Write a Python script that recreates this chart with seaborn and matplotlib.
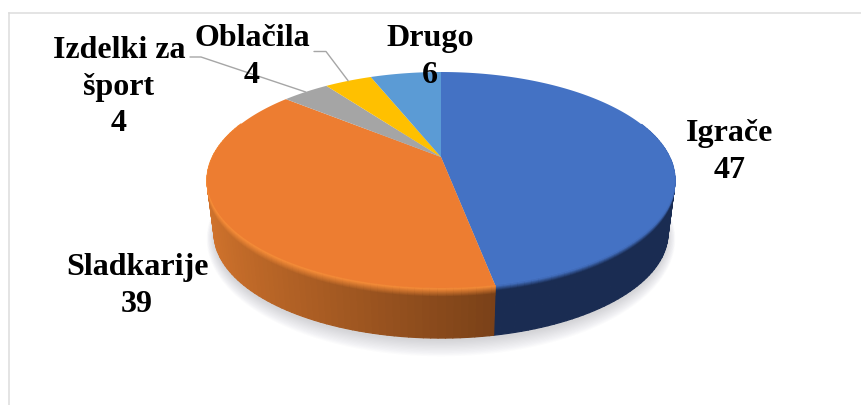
import numpy as np
import matplotlib
matplotlib.use("Agg")
import matplotlib.pyplot as plt
from matplotlib.collections import PolyCollection
from matplotlib.colors import to_rgb
from matplotlib.patches import Circle
from matplotlib.path import Path
from matplotlib.transforms import Affine2D, Transform
import seaborn as sns

categories = ["Igrače", "Sladkarije", "Izdelki za\nšport", "Oblačila", "Drugo"]
values = [47, 39, 4, 4, 6]
slice_colors = ["#4472c4", "#ed7d31", "#a5a5a5", "#ffc000", "#5b9bd5"]

W, H = 861, 405
LEFT, TOP = 8.5, 12.5
TOP_DISC = dict(cx=441, cy=157, a=228.6, b=103.1, k=0.213)
BOTTOM_DISC = dict(cx=441, cy=211, a=221.7, b=100.0, k=0.213)


class Perspective(Transform):
    input_dims = 2
    output_dims = 2
    is_affine = False
    has_inverse = False

    def __init__(self, cx, cy, a, b, k):
        super().__init__()
        self.cx, self.cy, self.a, self.b, self.k = cx, cy, a, b, k

    def transform_non_affine(self, xy):
        xy = np.asarray(xy, dtype=float)
        w = 1 + self.k * xy[:, 1]
        return np.column_stack((self.cx + self.a * xy[:, 0] / w,
                                self.cy - self.b * xy[:, 1] / w))

    def transform_path_non_affine(self, path):
        # flatten the curves first so that the arcs stay exact under the projection
        poly = path.to_polygons(Affine2D().scale(2000), closed_only=False)[0] / 2000
        return Path(self.transform_non_affine(poly))


sns.set_theme(style="white")
palette = sns.color_palette(slice_colors)

fig = plt.figure(figsize=(W / 100, H / 100), dpi=100)
ax = fig.add_axes([LEFT / W, 0, 1 - LEFT / W, 1 - TOP / H])
wedges, _ = ax.pie(values, colors=palette, startangle=90, counterclock=False,
                   radius=1, wedgeprops=dict(linewidth=0, zorder=3))
ax.set_aspect("auto")
ax.set_xlim(LEFT, W)
ax.set_ylim(H, TOP)
ax.set_frame_on(True)
ax.set_xticks([])
ax.set_yticks([])
sns.despine(ax=ax, right=True, bottom=True, top=False, left=False)
for side in ("top", "left"):
    ax.spines[side].set_color("#dcdcdc")
    ax.spines[side].set_linewidth(1.1)

top_tf = Perspective(**TOP_DISC)
bottom_tf = Perspective(**BOTTOM_DISC)
for w in wedges:
    w.set_transform(top_tf + ax.transData)

# soft shadow under the pie
for d in range(12, -1, -1):
    sh = dict(BOTTOM_DISC)
    sh["cy"] += 3
    sh["a"] += d * 0.6
    sh["b"] += d
    ax.add_patch(Circle((0, 0), 1, facecolor="#5a5a68", alpha=0.018, linewidth=0,
                        transform=Perspective(**sh) + ax.transData, zorder=1))


def lerp(c0, c1, t):
    return tuple((1 - t) * a + t * b for a, b in zip(to_rgb(c0), to_rgb(c1)))


def rim_color(i, cos_theta):
    if i == 0:
        return to_rgb("#1a2c52")
    if i == 1:
        t = np.clip((cos_theta + 1) / 1.19, 0, 1)
        return lerp("#d4752d", "#7a4118", t)
    return lerp(slice_colors[i], "#000000", 0.45)


bevel_colors = {0: "#4472c4", 1: "#f68c38"}
bevel_depth = {0: 0.10, 1: 0.16}
quads = []
levels = np.concatenate((np.linspace(0, 0.2, 13), [0.6, 1.0]))
for i, w in enumerate(wedges):
    edges = np.radians(np.arange(w.theta1, w.theta2 + 1.5, 1.5))
    edges[-1] = np.radians(w.theta2)
    for t0, t1 in zip(edges[:-1], edges[1:]):
        tm = (t0 + t1) / 2
        if np.sin(tm) > 0.35:
            continue
        pts = np.array([[np.cos(t0), np.sin(t0)], [np.cos(t1), np.sin(t1)]])
        up = top_tf.transform_non_affine(pts)
        lo = bottom_tf.transform_non_affine(pts)
        base = rim_color(i, np.cos(tm))
        for s0, s1 in zip(levels[:-1], levels[1:]):
            a0, b0 = up + (lo - up) * s0
            a1, b1 = up + (lo - up) * s1
            sm = (s0 + s1) / 2
            bev = bevel_colors.get(i, slice_colors[i])
            f = min(sm / bevel_depth.get(i, 0.15), 1)
            quads.append((-np.sin(tm), -sm, [a0, b0, b1, a1], lerp(bev, base, f)))
# far quads first, so the front of the rim lies over them
quads.sort(key=lambda q: (q[0], q[1]))
polys = [q[2] for q in quads]
cols = [q[3] for q in quads]
ax.add_collection(PolyCollection(polys, facecolors=cols, edgecolors=cols,
                                 linewidths=0.9, zorder=2))

# leader lines to the two small slices
leader_elbows = {2: [(190, 57), (201, 57)], 3: [(314, 51.5), (326, 51.5)]}
for i, elbow in leader_elbows.items():
    w = wedges[i]
    mid = np.radians((w.theta1 + w.theta2) / 2)
    end = top_tf.transform_non_affine(np.array([[np.cos(mid), np.sin(mid)]]))[0]
    xs = [p[0] for p in elbow] + [end[0]]
    ys = [p[1] for p in elbow] + [end[1]]
    ax.plot(xs, ys, color="#a6a6a6", lw=1.0, zorder=4)

label_xy = [(730, 152), (137, 286), (119, 87), (252, 57), (430, 57)]
for cat, val, (x, y) in zip(categories, values, label_xy):
    ax.text(x, y, f"{cat}\n{val}", ha="center", va="center", multialignment="center",
            family=["Liberation Serif", "DejaVu Serif"], fontweight="bold",
            fontsize=23, color="#000000", linespacing=1.32, zorder=5)

fig.savefig("out.png", dpi=100, facecolor="white")
